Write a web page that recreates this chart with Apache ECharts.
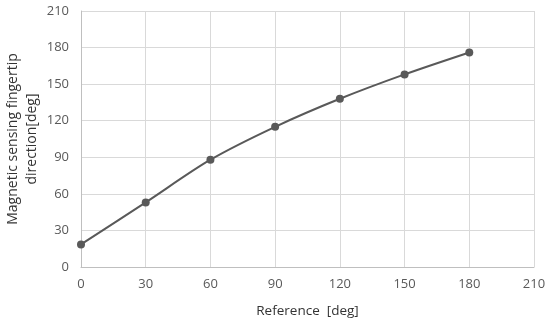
<!DOCTYPE html>
<html><head><meta charset="utf-8">
<script src="https://cdn.jsdelivr.net/npm/echarts@6/dist/echarts.min.js"></script>
<style>html,body{margin:0;padding:0;background:#fff}#c{width:550px;height:322px}</style>
</head><body><div id="c"></div>
<script>
const xValues = [0, 30, 60, 90, 120, 150, 180];
const yValues = [18.5, 53, 88, 115, 138, 158, 176];
const xName = 'Reference  [deg]';
const yName = 'Magnetic sensing fingertip\ndirection[deg]';
const data = xValues.map((x, i) => [x, yValues[i]]);
const font = 'Open Sans';
const chart = echarts.init(document.getElementById('c'));
chart.setOption({
  animation: false,
  grid: {left: 81, right: 16, top: 11, bottom: 55, outerBoundsMode: 'none', containLabel: false},
  xAxis: {
    type: 'value', min: 0, max: 210, interval: 30,
    name: xName, nameLocation: 'middle', nameGap: 37, nameMoveOverlap: false,
    nameTextStyle: {fontFamily: font, fontSize: 13.5, color: '#333333'},
    axisLine: {show: true, lineStyle: {color: '#bfbfbf'}},
    axisTick: {show: false},
    axisLabel: {fontFamily: font, fontSize: 13, color: '#595959', margin: 11},
    splitLine: {show: true, lineStyle: {color: '#d9d9d9'}}
  },
  yAxis: {
    type: 'value', min: 0, max: 210, interval: 30,
    name: yName, nameLocation: 'middle', nameGap: 39, nameRotate: 90, nameMoveOverlap: false,
    nameTextStyle: {fontFamily: font, fontSize: 14, color: '#333333', lineHeight: 19},
    axisLine: {show: true, lineStyle: {color: '#bfbfbf'}},
    axisTick: {show: false},
    axisLabel: {fontFamily: font, fontSize: 13, color: '#595959', margin: 12},
    splitLine: {show: true, lineStyle: {color: '#d9d9d9'}}
  },
  series: [{
    type: 'line', data: data, smooth: 0.3,
    symbol: 'circle', symbolSize: 8,
    lineStyle: {color: '#595959', width: 2},
    itemStyle: {color: '#595959'}
  }]
});
</script></body></html>
